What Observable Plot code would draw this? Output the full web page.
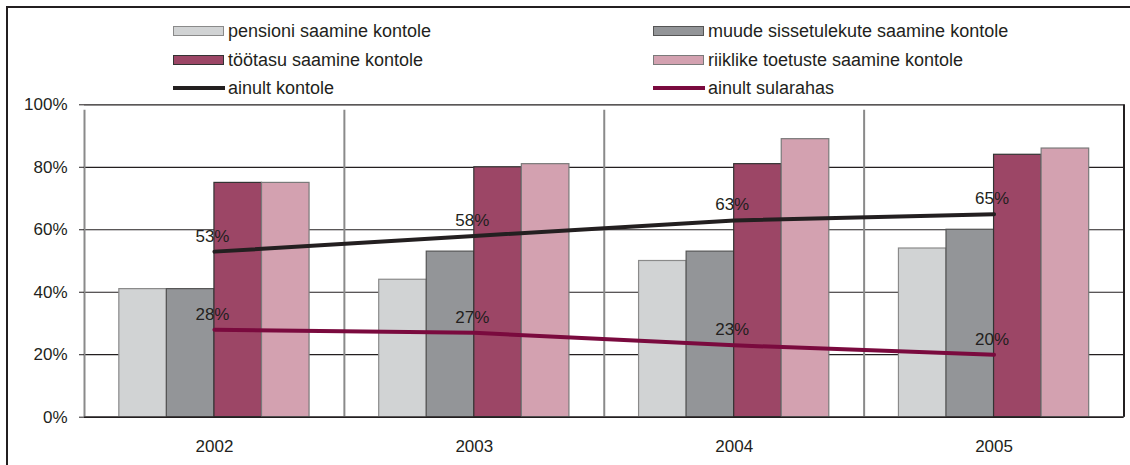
<!DOCTYPE html>
<html>
<head>
<meta charset="utf-8">
<script src="https://cdn.jsdelivr.net/npm/d3@7"></script>
<script src="https://cdn.jsdelivr.net/npm/@observablehq/plot@0.6"></script>
<style>
  html, body { margin: 0; padding: 0; background: #fff; }
  #wrap { position: relative; width: 1130px; height: 465px; overflow: hidden; background: #fff;
          font-family: "Liberation Sans", Arial, sans-serif; color: #231f20; }
  #frame { position: absolute; left: 6px; top: 6px; width: 1140px; height: 480px;
           border-left: 2px solid #231f20; border-top: 2px solid #231f20; pointer-events: none; }
  #legend { position: relative; height: 95px; }
  .item { position: absolute; height: 20px; display: flex; align-items: center; font-size: 18px; white-space: nowrap; }
  .sw { width: 51px; height: 10px; margin-right: 4px; box-sizing: border-box; }
  .ln { width: 52px; height: 4px; margin-right: 3px; }
  #chart svg { display: block; }
</style>
</head>
<body>
<div id="wrap">
  <div id="legend"></div>
  <div id="chart"></div>
  <div id="frame"></div>
</div>
<script>
const years = [2002, 2003, 2004, 2005];
const seriesNames = ["pensioni saamine kontole", "muude sissetulekute saamine kontole", "töötasu saamine kontole", "riiklike toetuste saamine kontole"];
const pension = [41, 44, 50, 54];
const muud = [41, 53, 53, 60];
const tootasu = [75, 80, 81, 84];
const riiklike = [75, 81, 89, 86];
const lineNames = ["ainult kontole", "ainult sularahas"];
const ainultKontole = [53, 58, 63, 65];
const ainultSularahas = [28, 27, 23, 20];
const yTicks = [0, 20, 40, 60, 80, 100];

const barFills = ["#d1d3d4", "#939598", "#9c4666", "#d3a1b0"];
const barStrokes = ["#8a8a8a", "#555555", "#333333", "#7a7a7a"];
const lineColors = ["#231f20", "#7a0a3e"];

// legend (HTML, above the svg)
const legend = document.getElementById("legend");
const legendItems = [
  {label: seriesNames[0], type: "sw", i: 0, col: 0, row: 0},
  {label: seriesNames[1], type: "sw", i: 1, col: 1, row: 0},
  {label: seriesNames[2], type: "sw", i: 2, col: 0, row: 1},
  {label: seriesNames[3], type: "sw", i: 3, col: 1, row: 1},
  {label: lineNames[0], type: "ln", i: 0, col: 0, row: 2},
  {label: lineNames[1], type: "ln", i: 1, col: 1, row: 2}
];
const colX = [173, 653];
const rowY = [21, 50, 78];
for (const it of legendItems) {
  const div = document.createElement("div");
  div.className = "item";
  div.style.left = colX[it.col] + "px";
  div.style.top = rowY[it.row] + "px";
  const s = document.createElement("span");
  s.className = it.type;
  if (it.type === "sw") {
    s.style.background = barFills[it.i];
    s.style.border = "1px solid " + barStrokes[it.i];
  } else {
    s.style.background = lineColors[it.i];
  }
  div.appendChild(s);
  const t = document.createElement("span");
  t.textContent = it.label;
  div.appendChild(t);
  legend.appendChild(div);
}

const seriesValues = [pension, muud, tootasu, riiklike];
const bars = seriesNames.flatMap((s, si) => years.map((y, yi) => ({series: s, si, year: y, value: seriesValues[si][yi]})));
const sub = d3.scaleBand().domain(seriesNames).range([-0.366, 0.366]);
const lineData = [ainultKontole, ainultSularahas].map((vals, li) => years.map((y, yi) => ({name: lineNames[li], year: y, value: vals[yi]})));
const boundaries = [years[0] - 0.5, ...years.map(y => y + 0.5)];

const marks = [
  Plot.ruleY(yTicks, {y: d => d, stroke: "#231f20", strokeWidth: 1.2}),
  Plot.ruleX(boundaries, {x: d => d, y1: 0, y2: 100, insetBottom: -5.5, stroke: "#8a8a8a", strokeWidth: 2}),
  Plot.ruleX([boundaries[boundaries.length - 1]], {x: d => d, y1: 0, y2: 100, stroke: "#231f20", strokeWidth: 2}),
  Plot.axisY(yTicks, {label: null, tickSize: 5, tickPadding: 12, tickFormat: d => d + "%", stroke: "#231f20", fill: "#231f20", fontSize: 17}),
  Plot.axisX(years, {label: null, tickSize: 0, tickPadding: 23, tickFormat: d => String(d), fill: "#231f20", fontSize: 17})
];
seriesNames.forEach((s, si) => {
  marks.push(Plot.rect(bars.filter(d => d.si === si), {
    x1: d => d.year + sub(d.series),
    x2: d => d.year + sub(d.series) + sub.bandwidth(),
    y1: 0, y2: "value",
    fill: barFills[si], stroke: barStrokes[si], strokeWidth: 1.2
  }));
});
marks.push(Plot.ruleY([0], {y: d => d, x1: 2001.5, x2: 2005.5, stroke: "#231f20", strokeWidth: 1.5}));
lineData.forEach((ld, li) => {
  marks.push(Plot.line(ld, {x: "year", y: "value", stroke: lineColors[li], strokeWidth: 4}));
  marks.push(Plot.text(ld, {x: "year", y: "value", text: d => d.value + "%", dy: -15.5, dx: -2, fontSize: 17, fill: "#231f20"}));
});

const chart = Plot.plot({
  width: 1130,
  height: 370,
  marginTop: 9.3,
  marginBottom: 48.3,
  marginLeft: 84,
  marginRight: 6.5,
  x: {type: "linear", domain: [2001.5, 2005.5], label: null},
  y: {domain: [0, 100], label: null},
  style: {fontFamily: "'Liberation Sans', Arial, sans-serif", fontSize: "17px", color: "#231f20", background: "transparent"},
  marks
});
document.getElementById("chart").appendChild(chart);
</script>
</body>
</html>
